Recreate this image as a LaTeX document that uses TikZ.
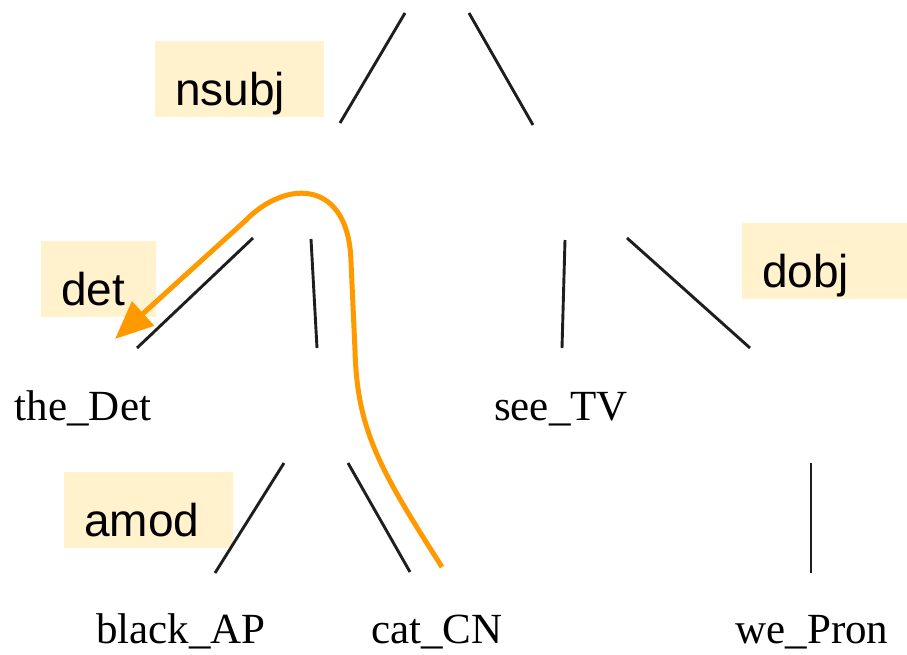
\documentclass[tikz,border=0pt]{standalone}
\usepackage{fontspec}
\setmainfont{Liberation Serif}
\newfontfamily\labelfont{Liberation Sans}
\usetikzlibrary{arrows.meta}
\definecolor{labelfill}{HTML}{FFF2CC}
\definecolor{arcorange}{HTML}{FF9900}
\definecolor{edgeink}{HTML}{1E1E1E}

\begin{document}
\begin{tikzpicture}[x=1pt,y=-1pt,
  word/.style={font=\fontsize{43}{50}\selectfont, inner sep=0pt, anchor=base},
  rel/.style={fill=labelfill, font=\labelfont\fontsize{46}{52}\selectfont,
    anchor=north west, inner ysep=0pt, inner xsep=20pt,
    text height=64pt, text depth=12pt, align=left},
  treeedge/.style={draw=edgeink, line width=2.9pt},
  deparc/.style={draw=arcorange, line width=5pt,
    -{Triangle[length=38pt,width=32pt]}}]

\useasboundingbox (0,0) rectangle (907,655);

% dependency relation labels
\node[rel, text width=129pt] (nsubj) at (155,41) {nsubj};
\node[rel, text width=75pt]  (det)   at (41,241) {det};
\node[rel, text width=129pt] (amod)  at (64,472) {amod};
\node[rel, text width=125pt] (dobj)  at (742,223) {dobj};

% leaf words
\node[word] (the)   at (83,420)  {the\_Det};
\node[word] (see)   at (561,420) {see\_TV};
\node[word] (black) at (181,643) {black\_AP};
\node[word] (cat)   at (437,643) {cat\_CN};
\node[word] (we)    at (812,643) {we\_Pron};

% tree edge end points
\coordinate (s1a) at (405,13);  \coordinate (s1b) at (340,123);
\coordinate (s2a) at (469,13);  \coordinate (s2b) at (533,125);
\coordinate (n1a) at (253,238); \coordinate (n1b) at (137,348);
\coordinate (n2a) at (311,239); \coordinate (n2b) at (317,348);
\coordinate (c1a) at (284,463); \coordinate (c1b) at (215,573);
\coordinate (c2a) at (348,463); \coordinate (c2b) at (410,572);
\coordinate (v1a) at (565,240); \coordinate (v1b) at (562,348);
\coordinate (v2a) at (627,238); \coordinate (v2b) at (750,348);
\coordinate (p1a) at (811,463); \coordinate (p1b) at (811,573);

\draw[treeedge] (s1a) -- (s1b);
\draw[treeedge] (s2a) -- (s2b);
\draw[treeedge] (n1a) -- (n1b);
\draw[treeedge] (n2a) -- (n2b);
\draw[treeedge] (c1a) -- (c1b);
\draw[treeedge] (c2a) -- (c2b);
\draw[treeedge] (v1a) -- (v1b);
\draw[treeedge] (v2a) -- (v2b);
\draw[treeedge] (p1a) -- (p1b);

% det arc from the head noun up and over to the determiner
\coordinate (arcstart) at (442,567);
\coordinate (arctip)   at (115,339);
\draw[deparc] (arcstart)
  .. controls (380,470) and (357,430) .. (355,350)
  -- (351,262)
  .. controls (349,180) and (287,178) .. (245,221)
  -- (arctip);
\end{tikzpicture}
\end{document}
